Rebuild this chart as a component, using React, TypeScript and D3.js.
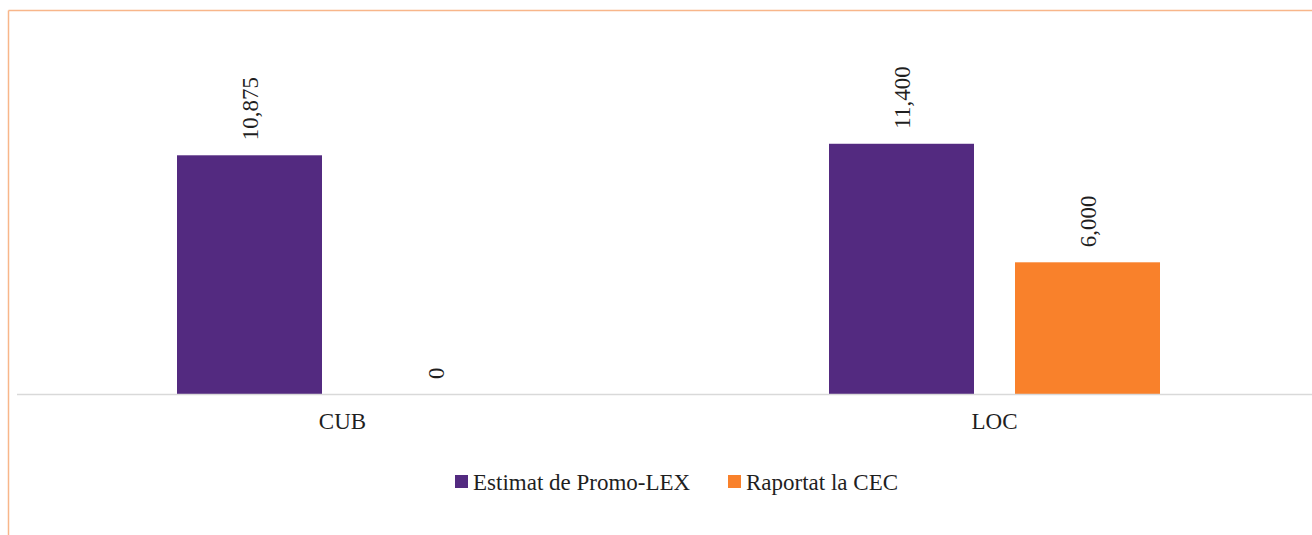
import React from "react";
import * as d3 from "d3";

const categories = ["CUB", "LOC"];
const seriesNames = ["Estimat de Promo-LEX", "Raportat la CEC"];
const estimatValues = [10875, 11400];
const raportatValues = [0, 6000];
const seriesColors = ["#532A80", "#F9812B"];

const W = 1312;
const H = 535;
const baseY = 394;
const FONT = "'Liberation Serif', 'Times New Roman', serif";

export default function App() {
  const x0 = d3.scaleBand<string>().domain(categories).range([16.5, 1320.5]).padding(0);
  const x1 = d3
    .scaleBand<string>()
    .domain(seriesNames)
    .range([160.5, 491.5])
    .paddingInner(41 / 186)
    .paddingOuter(0);
  const y = d3.scaleLinear().domain([0, 14000]).range([baseY, baseY - 14000 * 0.02195]);
  const fmt = d3.format(",");
  const seriesValues = [estimatValues, raportatValues];

  const legendX = [455, 728];

  return (
    <svg
      width={W}
      height={H}
      style={{ position: "absolute", left: 0, top: 0, background: "#fff" }}
      fontFamily={FONT}
    >
      <rect x={0} y={0} width={W} height={H} fill="#fff" />
      {/* chart border (cropped on right and bottom) */}
      <line x1={8.5} y1={10.5} x2={W} y2={10.5} stroke="#F8B68A" strokeWidth={1.5} />
      <line x1={8.5} y1={10.5} x2={8.5} y2={H} stroke="#F8B68A" strokeWidth={1.5} />

      {categories.map((cat, ci) =>
        seriesNames.map((s, si) => {
          const v = seriesValues[si][ci];
          const bx = (x0(cat) ?? 0) + (x1(s) ?? 0);
          const bw = x1.bandwidth();
          const cx = bx + bw / 2;
          const ty = y(v) - 15;
          return (
            <g key={cat + s}>
              {v > 0 && (
                <rect x={bx} y={y(v)} width={bw} height={baseY - y(v)} fill={seriesColors[si]} />
              )}
              <text
                transform={`translate(${cx},${ty}) rotate(-90)`}
                dy="0.35em"
                fontSize={23}
                fill="#1f1f1f"
                textAnchor="start"
              >
                {fmt(v)}
              </text>
            </g>
          );
        })
      )}

      {/* axis line */}
      <line x1={17} y1={baseY + 0.5} x2={W} y2={baseY + 0.5} stroke="#D9D9D9" strokeWidth={1.5} />

      {categories.map((cat) => (
        <text
          key={cat}
          x={(x0(cat) ?? 0) + x0.bandwidth() / 2}
          y={429}
          textAnchor="middle"
          fontSize={23}
          fill="#1f1f1f"
        >
          {cat}
        </text>
      ))}

      {seriesNames.map((s, i) => (
        <g key={s}>
          <rect x={legendX[i]} y={475} width={13} height={13} fill={seriesColors[i]} />
          <text x={legendX[i] + 18} y={490} fontSize={23} fill="#1f1f1f">
            {s}
          </text>
        </g>
      ))}
    </svg>
  );
}
